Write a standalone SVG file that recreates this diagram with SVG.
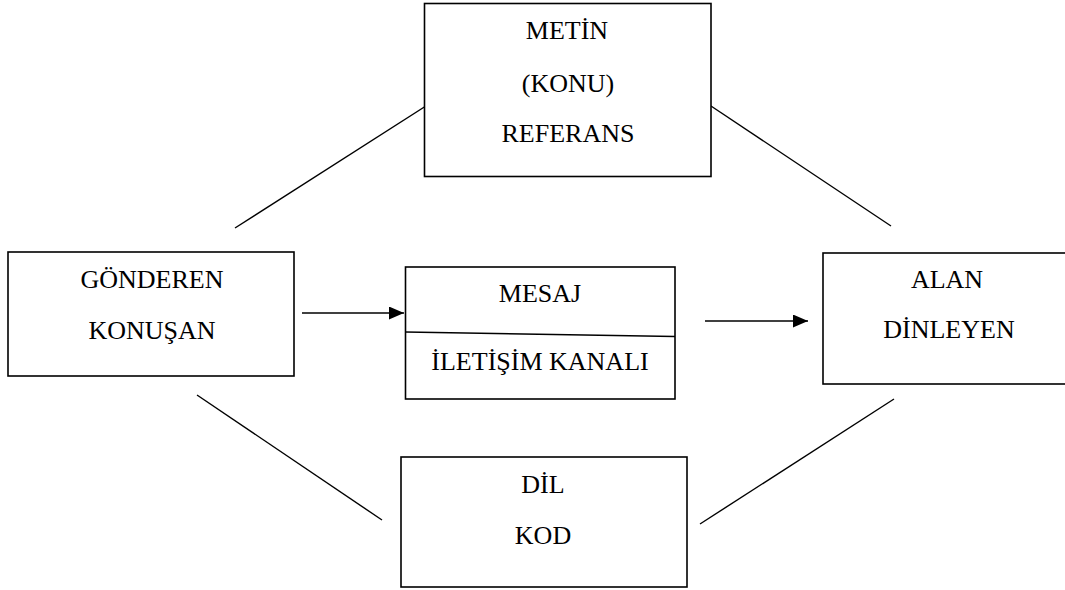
<svg xmlns="http://www.w3.org/2000/svg" width="1065" height="590" viewBox="0 0 1065 590">
<style>
.box{fill:#fff;stroke:#000;stroke-width:1.6}
.ln{stroke:#000;stroke-width:1.4;fill:none}
.t{font-family:'Liberation Serif','Times New Roman',Times,serif;font-size:26px;fill:#000;text-anchor:middle}
</style>
<defs>
<marker id="arr" viewBox="0 0 15 13" refX="15" refY="6.5" markerWidth="15" markerHeight="13" markerUnits="userSpaceOnUse" orient="auto">
<path d="M0,0 L15,6.5 L0,13 z" fill="#000"/>
</marker>
</defs>
<rect width="1065" height="590" fill="#fff"/>
<g id="connectors">
<line class="ln" x1="235" y1="228" x2="429" y2="104"/>
<line class="ln" x1="711" y1="106" x2="891" y2="226"/>
<line class="ln" x1="197" y1="395" x2="382" y2="520"/>
<line class="ln" x1="894" y1="399" x2="700" y2="524"/>
<line class="ln" x1="302" y1="313" x2="404" y2="313" marker-end="url(#arr)"/>
<line class="ln" x1="705" y1="321" x2="808" y2="321" marker-end="url(#arr)"/>
</g>
<g id="metin">
<rect class="box" x="424.5" y="3.5" width="286.5" height="173"/>
<text class="t" x="567" y="39">METİN</text>
<text class="t" x="568" y="92">(KONU)</text>
<text class="t" x="568" y="142">REFERANS</text>
</g>
<g id="gonderen">
<rect class="box" x="8" y="252" width="286" height="124"/>
<text class="t" x="152" y="288">GÖNDEREN</text>
<text class="t" x="152" y="339">KONUŞAN</text>
</g>
<g id="mesaj">
<rect class="box" x="405.5" y="267" width="269.5" height="132"/>
<line class="ln" x1="405.5" y1="332" x2="675" y2="336.5"/>
<text class="t" x="540" y="302">MESAJ</text>
<text class="t" x="540" y="370">İLETİŞİM KANALI</text>
</g>
<g id="alan">
<rect class="box" x="823" y="253" width="260" height="131"/>
<text class="t" x="947" y="288">ALAN</text>
<text class="t" x="949" y="338">DİNLEYEN</text>
</g>
<g id="dil">
<rect class="box" x="401" y="457" width="286" height="130"/>
<text class="t" x="543" y="493">DİL</text>
<text class="t" x="543" y="544">KOD</text>
</g>
</svg>
